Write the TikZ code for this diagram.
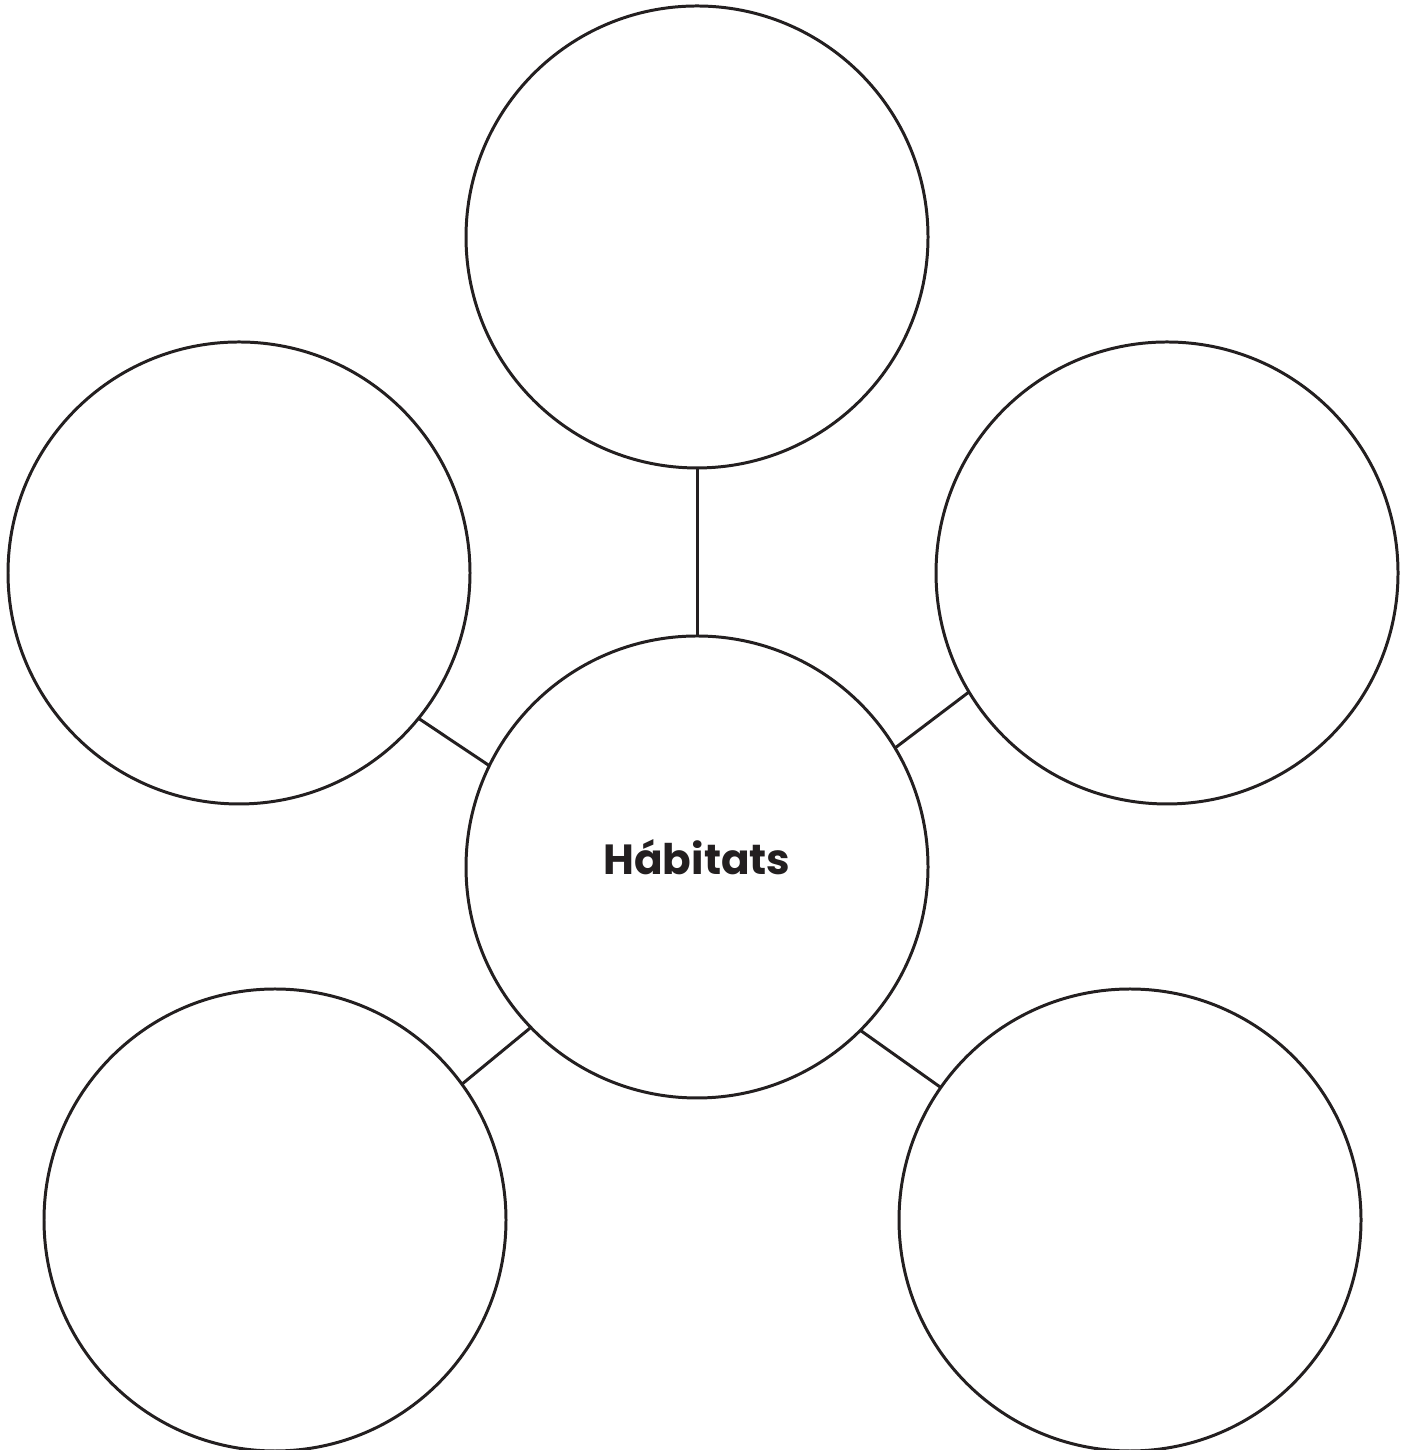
\documentclass[tikz,border=0pt]{standalone}
\usepackage{fontspec}
\usepackage{xcolor}
\usepackage{tikz}
\usetikzlibrary{positioning}
\newfontfamily\habfont{Poppins}
\definecolor{tinta}{HTML}{231F20}

\begin{document}
\begin{tikzpicture}[
      every node/.style={font=\habfont\bfseries\fontsize{12}{14}\selectfont,text=tinta},
      bub/.style={draw=tinta,circle,line width=0.85pt,inner sep=0pt,outer sep=0pt,minimum size=4.62cm},
      lnk/.style={draw=tinta,line width=0.85pt},
    ]
  \useasboundingbox (0,0) rectangle (14.04,14.5);
  \node[bub] (hab) at (6.97,5.83) {\raisebox{0.2cm}{Hábitats}};
  \node[bub, above=1.68cm of hab] (top) {};
  \node[bub] (left) at (2.39,8.77) {};
  \node[bub] (right) at (11.67,8.77) {};
  \node[bub] (bl) at (2.75,2.30) {};
  \node[bub] (br) at (11.30,2.30) {};

  % ligações ao centro
  \draw[lnk] (hab) -- (top);
  \draw[lnk] (hab.154) -- (left.-39);
  \draw[lnk] (hab.31) -- (right.211);
  \draw[lnk] (hab.224) -- (bl.36);
  \draw[lnk] (hab.315) -- (br.145);
\end{tikzpicture}
\end{document}
